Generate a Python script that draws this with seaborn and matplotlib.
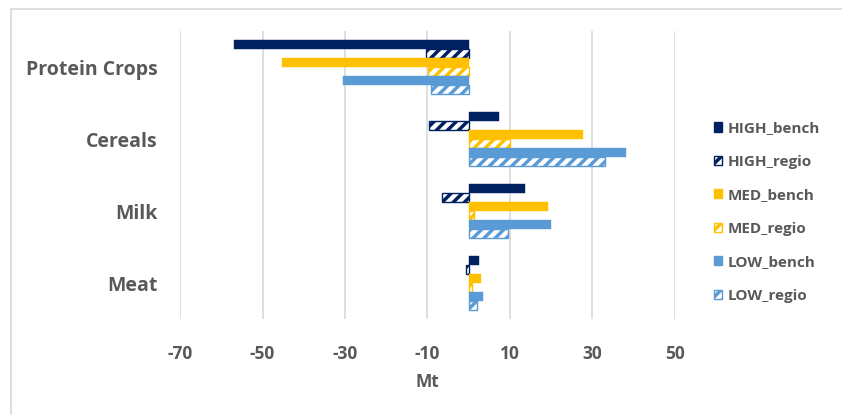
import matplotlib
matplotlib.use("Agg")
import matplotlib.pyplot as plt
import matplotlib.patches as mpatches
import seaborn as sns
import pandas as pd

categories = ["Protein Crops", "Cereals", "Milk", "Meat"]
series = ["HIGH_bench", "HIGH_regio", "MED_bench", "MED_regio", "LOW_bench", "LOW_regio"]
high_bench = [-56.8, 7.3, 13.7, 2.6]
high_regio = [-10.4, -9.6, -6.4, -0.7]
med_bench = [-45.3, 27.6, 19.1, 2.9]
med_regio = [-9.8, 10.1, 1.3, 0.9]
low_bench = [-30.4, 38.2, 20.0, 3.4]
low_regio = [-9.2, 33.1, 9.4, 2.0]
x_ticks = [-70, -50, -30, -10, 10, 30, 50]

values = [high_bench, high_regio, med_bench, med_regio, low_bench, low_regio]
colors = ["#002060", "#002060", "#FFC000", "#FFC000", "#5B9BD5", "#5B9BD5"]

rows = []
for s, vals in zip(series, values):
    for c, v in zip(categories, vals):
        rows.append({"category": c, "series": s, "value": v})
df = pd.DataFrame(rows)

sns.set_style("white")
plt.rcParams["font.family"] = ["Open Sans", "DejaVu Sans"]
plt.rcParams["font.weight"] = "bold"
plt.rcParams["hatch.linewidth"] = 2.5

fig = plt.figure(figsize=(8.42, 4.15), dpi=100)
ax = fig.add_axes([180 / 842, 1 - 319 / 415, (675 - 180) / 842, (319 - 31) / 415])

sns.barplot(data=df, y="category", x="value", hue="series", order=categories,
            hue_order=series, palette=dict(zip(series, colors)), width=0.74,
            orient="h", legend=False, ax=ax, errorbar=None)

for i, cont in enumerate(ax.containers):
    for p in cont.patches:
        if series[i].endswith("regio"):
            p.set_facecolor("white")
            p.set_edgecolor(colors[i])
            p.set_hatch("///")
            p.set_linewidth(1.0)
        else:
            p.set_facecolor(colors[i])
            p.set_edgecolor(colors[i])
            p.set_linewidth(0.3)

ax.set_xlim(-70, 50)
ax.set_xticks(x_ticks)
ax.set_xticklabels([str(t) for t in x_ticks])
ax.xaxis.grid(True, color="#d9d9d9", linewidth=1.2)
ax.yaxis.grid(False)
ax.set_axisbelow(True)
for sp in ax.spines.values():
    sp.set_visible(False)
ax.tick_params(axis="both", length=0)
ax.tick_params(axis="x", pad=19, labelsize=12.5, labelcolor="#595959")
ax.tick_params(axis="y", pad=16, labelsize=14, labelcolor="#595959")
for lab in ax.get_xticklabels() + ax.get_yticklabels():
    lab.set_fontweight("bold")
ax.set_ylabel("")
ax.set_xlabel("Mt", fontsize=12.5, color="#595959", fontweight="bold", labelpad=7)

handles = []
for s, c in zip(series, colors):
    if s.endswith("regio"):
        handles.append(mpatches.Patch(facecolor="white", edgecolor=c, hatch="///", linewidth=1.0, label=s))
    else:
        handles.append(mpatches.Patch(facecolor=c, edgecolor=c, label=s))
leg = fig.legend(handles=handles, loc="center left", bbox_to_anchor=(714 / 842, 1 - 212 / 415),
                 frameon=False, fontsize=11, handlelength=0.55, handleheight=0.55,
                 handletextpad=0.35, labelspacing=1.27, borderaxespad=0, borderpad=0)
for t in leg.get_texts():
    t.set_color("#595959")
    t.set_fontweight("bold")

fig.patches.append(mpatches.Rectangle((11 / 842, -0.05), 1.2, 1 - 9 / 415 + 0.05,
                                      transform=fig.transFigure, fill=False,
                                      edgecolor="#d9d9d9", linewidth=1.2))

fig.savefig("out.png", dpi=100)
